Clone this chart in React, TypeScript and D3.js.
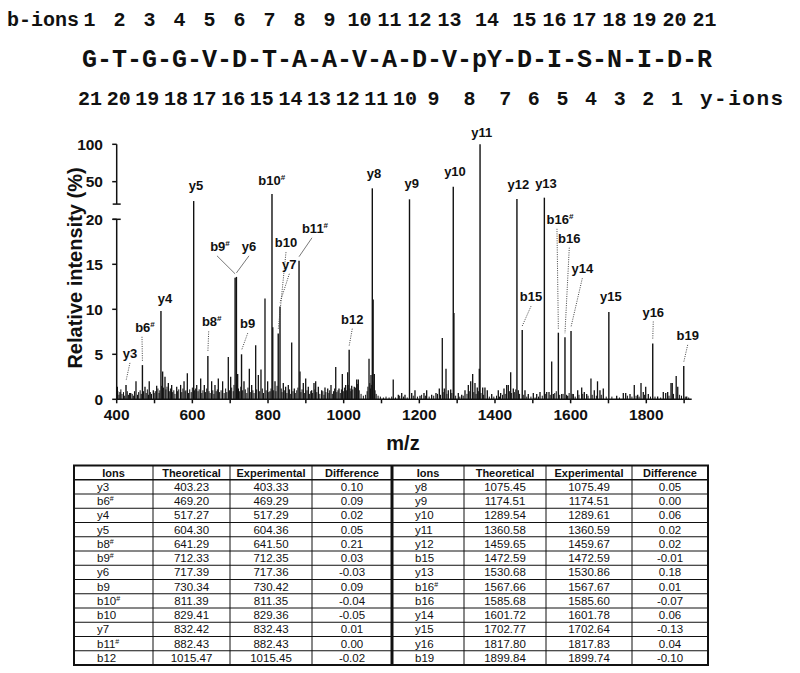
import React from "react";
import * as d3 from "d3";

// ---------- header data ----------
const residues = ["G","T","G","G","V","D","T","A","A","V","A","D","V","pY","D","I","S","N","I","D","R"];
const bIonNumbers = ["1","2","3","4","5","6","7","8","9","10","11","12","13","14","15","16","17","18","19","20","21"];
const yIonNumbers = ["21","20","19","18","17","16","15","14","13","12","11","10","9","8","7","6","5","4","3","2","1"];

// ---------- spectrum data ----------
const xTickValues = [400, 600, 800, 1000, 1200, 1400, 1600, 1800];
const xMinorTicks = [400,500,600,700,800,900,1000,1100,1200,1300,1400,1500,1600,1700,1800,1900];
const yTicksLow = [0, 5, 10, 15, 20];
const yTicksHigh = [50, 100];

// annotated peaks: label, peak m/z, peak intensity, label m/z, label intensity, leader
const annotations: [string, number, number, number, number, string][] = [
  ["y3", 424.6, 1.6, 435, 4.6, "dot"],
  ["b6#", 468, 3.8, 474.8, 7.5, "dot"],
  ["y4", 517, 9.8, 527.7, 10.7, "none"],
  ["y5", 603.5, 24.1, 609.6, 38.6, "none"],
  ["b8#", 641, 4.8, 651.1, 8.1, "dot"],
  ["b9#", 713, 13.5, 673, 16.5, "solid"],
  ["y6", 716.5, 13.6, 749.7, 16.5, "solid"],
  ["b9", 730, 5.0, 746.3, 7.9, "dot"],
  ["b10#", 810.5, 33.5, 809.7, 44.9, "none"],
  ["b10", 827, 7.3, 847.5, 16.9, "dot"],
  ["y7", 831.7, 10.3, 856.3, 14.5, "dot"],
  ["b11#", 882, 15.4, 924.2, 18.5, "solid"],
  ["b12", 1014.5, 5.5, 1022.8, 8.4, "dot"],
  ["y8", 1075.7, 41.1, 1080.2, 55.2, "none"],
  ["y9", 1174, 26.4, 1179.8, 41.8, "none"],
  ["y10", 1289.7, 43.3, 1294.3, 57.3, "none"],
  ["y11", 1360.5, 100, 1364.8, 109.4, "none"],
  ["y12", 1458, 26.8, 1461.6, 40.5, "none"],
  ["b15", 1472, 7.7, 1495.2, 10.9, "dot"],
  ["y13", 1530.5, 28.6, 1534.8, 41.8, "none"],
  ["b16#", 1567.5, 7.4, 1571.8, 19.5, "dot"],
  ["b16", 1585, 6.9, 1596.4, 17.4, "dot"],
  ["y14", 1601, 7.6, 1630.8, 14.0, "dot"],
  ["y15", 1701, 9.7, 1706.6, 10.9, "none"],
  ["y16", 1817, 6.2, 1818.4, 9.2, "dot"],
  ["b19", 1899, 3.7, 1909.4, 6.6, "dot"],
];

// unassigned peaks [m/z, intensity]
const otherPeaks: [number, number][] = [
  [401.7,1.4],[408.7,0.8],[437,0.7],[451,2.0],[474.8,1.4],[486,2.0],[496.8,1.0],[505.7,1.5],[521.5,3.1],[527.7,2.5],
  [536.5,1.8],[545.3,1.6],[558.6,1.4],[569,1.6],[578,2.0],[586.7,2.9],[611.5,1.6],[622,2.3],[631.6,1.6],[651,2.0],
  [659.8,1.6],[668.6,2.3],[680,2.0],[695,4.7],[701.3,2.5],[719.8,2.8],[736.5,2.0],[750.6,3.4],[756.8,1.6],[767.4,6.0],
  [774.4,2.7],[781.4,3.3],[792,11.2],[799,2.0],[805.2,0.9],[812.6,8.0],[818.5,2.0],[840.4,1.8],[846.6,1.4],[853.6,1.6],
  [862.6,6.3],[869.5,1.2],[884.5,3.1],[893.3,1.8],[899.6,2.3],[906.5,1.4],[915.4,1.0],[921.5,1.8],[926,2.0],[933,1.4],
  [941.9,1.0],[950.6,1.3],[957.8,1.2],[966.5,1.6],[979,3.6],[987.6,1.2],[996.4,2.8],[1005.3,1.6],[1010.6,3.0],[1021.2,1.5],
  [1028,1.4],[1034.4,2.2],[1038.7,2.2],[1067,4.5],[1072.2,2.7],[1078,11.1],[1081,2.8],[1131,2.2],[1144.4,0.5],[1153.4,0.7],
  [1162.1,0.5],[1179.8,0.7],[1188.5,1.0],[1201.7,0.4],[1212.3,0.7],[1219.4,1.0],[1232.6,0.5],[1244,0.7],[1252.8,1.2],[1260.7,6.8],
  [1266,1.2],[1270.5,3.4],[1276.6,1.0],[1282.9,1.1],[1291.5,9.6],[1303,0.7],[1312,0.5],[1320.7,1.0],[1329.5,1.6],[1335.8,2.0],
  [1341,2.8],[1347.1,1.8],[1353.2,1.3],[1358.5,3.4],[1367.5,1.3],[1373.5,1.3],[1379.7,1.0],[1391.3,0.6],[1408.7,1.0],[1415,0.7],
  [1423.8,1.2],[1430.9,1.6],[1435.2,1.6],[1441.5,3.0],[1448.4,1.2],[1461.6,1.0],[1479.3,1.0],[1488,0.6],[1501.3,0.7],[1510.3,0.6],
  [1519,0.8],[1536.7,0.8],[1542.8,0.8],[1549.9,4.2],[1554.2,0.6],[1576.3,0.6],[1592.2,0.4],[1607,0.6],[1618.6,1.0],[1629.2,1.3],
  [1636.1,0.8],[1642.4,0.6],[1653.7,2.3],[1662.5,1.0],[1671,2.0],[1677.5,1.0],[1686.3,1.2],[1721.7,0.4],[1739.2,0.7],[1745.5,0.7],
  [1756.9,0.6],[1768.2,1.6],[1777.2,0.5],[1786,1.8],[1792,0.8],[1798.4,1.4],[1805.3,0.6],[1830,0.3],[1844.9,0.8],[1851.3,0.7],
  [1856.5,0.8],[1865.3,1.8],[1868.6,1.8],[1879,2.6],[1883.1,1.4],[1906.8,0.3],
];

// low-level baseline clutter [m/z, intensity]
const clutterPeaks: [number, number][] = [
  [403,0.9],[406,0.5],[411,1.1],[414,0.6],[418,0.8],[421,0.4],[428,0.9],[431,0.5],[434,0.7],[441,0.6],[444,0.4],[447,0.9],
  [455,0.5],[458,0.8],[462,1.0],[465,0.6],[471,0.9],[478,0.7],[481,1.1],[484,0.5],[489,0.8],[492,0.6],[499,0.7],[502,0.9],
  [509,1.2],[512,0.7],[514,1.0],[519,1.5],[524,1.3],[530,1.1],[533,1.4],[539,0.9],[542,1.2],[548,0.8],[551,1.0],[554,0.6],
  [561,0.9],[564,1.1],[572,0.8],[575,1.2],[581,0.9],[583,1.0],[590,0.7],[593,1.1],[597,0.8],[600,1.3],[606,1.0],[608,1.2],
  [615,0.9],[618,1.1],[625,0.7],[628,1.0],[635,0.8],[638,1.2],[644,0.9],[647,0.7],[654,1.0],[657,0.6],[663,0.9],[666,1.1],
  [672,0.8],[676,1.0],[684,0.7],[688,1.2],[691,0.8],[698,1.0],[704,1.3],[708,0.9],[710,1.6],[722,1.2],[725,0.9],[728,1.4],
  [733,1.0],[740,1.1],[744,0.7],[747,1.3],[753,0.8],[760,1.0],[763,0.7],[770,1.1],[778,0.9],[785,1.2],[788,0.7],[795,1.0],
  [802,0.8],[808,1.2],[815,1.0],[821,0.9],[824,1.5],[835,1.2],[837,0.8],[843,1.0],[850,0.7],[857,1.1],[860,0.6],[866,0.9],
  [872,0.7],[876,1.0],[879,1.3],[887,0.8],[890,1.1],[896,0.7],[903,1.0],[910,0.6],[913,0.9],[918,0.7],[924,1.1],[929,0.8],
  [937,0.6],[945,0.9],[948,0.5],[953,0.8],[961,0.7],[963,1.0],[970,0.6],[973,0.9],[976,1.2],[982,0.8],[985,1.0],[991,0.7],
  [994,1.1],[999,0.9],[1002,1.3],[1008,1.0],[1012,1.6],[1017,1.2],[1019,0.9],[1024,1.1],[1031,1.3],[1036,1.7],[1041,1.0],
  [1046,0.6],[1052,0.4],[1058,0.5],[1062,0.9],[1064,1.4],[1069,1.8],[1071,1.2],[1073,1.6],[1077,2.0],[1083,1.0],[1086,0.6],
  [1091,0.4],[1097,0.3],[1105,0.2],[1112,0.3],[1120,0.2],[1127,0.3],[1137,0.2],[1148,0.4],[1158,0.3],[1168,0.2],[1184,0.4],
  [1195,0.3],[1206,0.5],[1216,0.4],[1226,0.3],[1238,0.4],[1248,0.6],[1256,0.5],[1263,0.8],[1273,0.6],[1286,0.7],[1296,0.4],
  [1307,0.3],[1316,0.4],[1326,0.6],[1332,0.9],[1344,0.8],[1350,0.6],[1356,0.9],[1363,0.7],[1370,0.5],[1385,0.3],[1397,0.3],
  [1404,0.4],[1412,0.3],[1420,0.5],[1427,0.6],[1438,0.9],[1444,0.7],[1452,0.8],[1455,1.1],[1465,0.6],[1476,0.5],[1484,0.3],
  [1495,0.3],[1506,0.2],[1515,0.3],[1525,0.4],[1533,0.6],[1546,0.5],[1558,0.7],[1562,0.9],[1571,0.5],[1580,0.6],[1589,0.5],
  [1596,0.7],[1604,0.6],[1612,0.3],[1622,0.5],[1632,0.6],[1646,0.4],[1657,0.5],[1668,0.4],[1681,0.5],[1694,0.3],[1709,0.3],
  [1729,0.2],[1750,0.4],[1762,0.3],[1773,0.4],[1781,0.3],[1795,0.5],[1811,0.3],[1823,0.3],[1838,0.2],[1860,0.4],[1872,0.6],
  [1888,0.5],[1893,0.4],[1903,0.3],[1912,0.2],
];

// ---------- table data ----------
const tableHeaders = ["Ions", "Theoretical", "Experimental", "Difference"];
const leftIons = ["y3","b6#","y4","y5","b8#","b9#","y6","b9","b10#","b10","y7","b11#","b12"];
const leftTheoretical = ["403.23","469.20","517.27","604.30","641.29","712.33","717.39","730.34","811.39","829.41","832.42","882.43","1015.47"];
const leftExperimental = ["403.33","469.29","517.29","604.36","641.50","712.35","717.36","730.42","811.35","829.36","832.43","882.43","1015.45"];
const leftDifference = ["0.10","0.09","0.02","0.05","0.21","0.03","-0.03","0.09","-0.04","-0.05","0.01","0.00","-0.02"];
const rightIons = ["y8","y9","y10","y11","y12","b15","y13","b16#","b16","y14","y15","y16","b19"];
const rightTheoretical = ["1075.45","1174.51","1289.54","1360.58","1459.65","1472.59","1530.68","1567.66","1585.68","1601.72","1702.77","1817.80","1899.84"];
const rightExperimental = ["1075.49","1174.51","1289.61","1360.59","1459.67","1472.59","1530.86","1567.67","1585.60","1601.78","1702.64","1817.83","1899.74"];
const rightDifference = ["0.05","0.00","0.06","0.02","0.02","-0.01","0.18","0.01","-0.07","0.06","-0.13","0.04","-0.10"];

// ---------- layout ----------
const W = 800, H = 673;
const SANS = "'Liberation Sans', Arial, Helvetica, sans-serif";
const MONO = "'Liberation Mono', 'DejaVu Sans Mono', monospace";
const INK = "#111";

const x = d3.scaleLinear().domain([400, 1920]).range([116.7, 691.7]);
const yLow = d3.scaleLinear().domain([0, 20]).range([399.3, 219.3]);
const yHigh = d3.scaleLinear().domain([20, 100]).range([204.1, 144.3]);
const y = (v: number) => (v <= 20 ? yLow(v) : yHigh(v));

function IonLabel({ text, supSize, dy }: { text: string; supSize: number; dy: number }) {
  const hash = text.endsWith("#");
  const base = hash ? text.slice(0, -1) : text;
  return (
    <>
      {base}
      {hash && (
        <tspan fontSize={supSize} dy={-dy}>#</tspan>
      )}
    </>
  );
}

export default function App() {
  // header: sequence laid out character-by-character in monospace cells
  const seqChars: { ch: string; res: number }[] = [];
  residues.forEach((r, i) => {
    if (i > 0) seqChars.push({ ch: "-", res: -1 });
    for (const c of r) seqChars.push({ ch: c, res: i });
  });
  const cell = d3.scaleLinear().domain([0, seqChars.length]).range([82, 712]);
  const residueCenter = residues.map((_, i) => {
    const idx = seqChars.map((c, k) => (c.res === i ? k : -1)).filter((k) => k >= 0);
    return (cell(idx[0]) + cell(idx[idx.length - 1] + 1)) / 2;
  });
  const yRow = d3.scaleLinear().domain([residueCenter[0], residueCenter[20]]).range([90, 677]);

  // table geometry
  const colEdges = [74, 153, 230, 312, 392, 464, 546, 632, 708];
  const tTop = 465.5, rowH = 14.25, nRows = 14;
  const tBottom = tTop + rowH * nRows;
  const rowY = (r: number) => tTop + r * rowH;
  const halves = [
    { cols: colEdges.slice(0, 5), ions: leftIons, th: leftTheoretical, ex: leftExperimental, df: leftDifference },
    { cols: colEdges.slice(4, 9), ions: rightIons, th: rightTheoretical, ex: rightExperimental, df: rightDifference },
  ];

  const peakLine = (mz: number, v: number, key: string, w: number) => (
    <line key={key} x1={x(mz)} x2={x(mz)} y1={y(0)} y2={y(v)} stroke={INK} strokeWidth={w} />
  );

  return (
    <div style={{ position: "fixed", left: 0, top: 0, width: W, height: H, background: "#fff" }}>
      <svg width={W} height={H} viewBox={`0 0 ${W} ${H}`} style={{ display: "block" }}>
        <rect width={W} height={H} fill="#fff" />

        {/* ---------- header ---------- */}
        <g fontFamily={MONO} fontWeight="bold" fill={INK}>
          <text x={7} y={26} fontSize={20}>b-ions</text>
          {bIonNumbers.map((n, i) => (
            <text key={"b" + n} x={residueCenter[i]} y={26} fontSize={20} textAnchor="middle">{n}</text>
          ))}
          {seqChars.map((c, k) => (
            <text key={"s" + k} x={(cell(k) + cell(k + 1)) / 2} y={67} fontSize={25} textAnchor="middle">{c.ch}</text>
          ))}
          {yIonNumbers.map((n, i) => (
            <text key={"y" + n} x={yRow(residueCenter[i])} y={105} fontSize={20} textAnchor="middle">{n}</text>
          ))}
          <text x={700} y={105} fontSize={21} letterSpacing={1.5}>y-ions</text>
        </g>

        {/* ---------- spectrum ---------- */}
        <g>
          {clutterPeaks.map(([mz, v], i) => peakLine(mz, v, "c" + i, 1))}
          {otherPeaks.map(([mz, v], i) => peakLine(mz, v, "o" + i, 1.3))}
          {annotations.map(([lab, mz, v]) => peakLine(mz, v, "a" + lab, 1.4))}
        </g>

        {/* leaders */}
        <g fill="none">
          {annotations
            .filter((a) => a[5] !== "none")
            .map(([lab, mz, v, lmz, lv, kind]) => {
              const sx = x(lmz) - (lab.endsWith("#") ? 3 : 0);
              const sy = y(lv) + 5;
              return (
                <line
                  key={"l" + lab}
                  x1={sx}
                  y1={sy}
                  x2={x(mz)}
                  y2={y(v) - 4}
                  stroke={kind === "dot" ? "#444" : "#555"}
                  strokeWidth={kind === "dot" ? 1 : 0.8}
                  strokeDasharray={kind === "dot" ? "1 1.3" : undefined}
                />
              );
            })}
        </g>

        {/* peak labels */}
        <g fontFamily={SANS} fontWeight="bold" fontSize={13} fill={INK} textAnchor="middle">
          {annotations.map(([lab, , , lmz, lv]) => (
            <text key={"t" + lab} x={x(lmz)} y={y(lv)}>
              <IonLabel text={lab} supSize={8} dy={5} />
            </text>
          ))}
        </g>

        {/* x axis */}
        <g stroke={INK} strokeWidth={1.5}>
          <line x1={x(400)} x2={x(1920)} y1={y(0)} y2={y(0)} />
          {xMinorTicks.map((t) => (
            <line key={"xt" + t} x1={x(t)} x2={x(t)} y1={y(0)} y2={y(0) + 4} />
          ))}
        </g>
        <g fontFamily={SANS} fontWeight="bold" fontSize={15.5} fill={INK} textAnchor="middle">
          {xTickValues.map((t) => (
            <text key={"xl" + t} x={x(t)} y={420}>{t}</text>
          ))}
          <text x={403} y={450} fontSize={20}>m/z</text>
        </g>

        {/* y axis with break */}
        <g stroke={INK} strokeWidth={1.5}>
          <line x1={x(400)} x2={x(400)} y1={yLow(0)} y2={yLow(20)} />
          <line x1={x(400)} x2={x(400)} y1={yHigh(20)} y2={yHigh(100)} />
          {yTicksLow.map((t) => (
            <line key={"yl" + t} x1={x(400) - 4.5} x2={x(400)} y1={yLow(t)} y2={yLow(t)} />
          ))}
          {yTicksHigh.map((t) => (
            <line key={"yh" + t} x1={x(400) - 4.5} x2={x(400)} y1={yHigh(t)} y2={yHigh(t)} />
          ))}
          <line x1={x(400) - 4} x2={x(400) + 4} y1={yHigh(20)} y2={yHigh(20)} />
          <line x1={x(400) - 4} x2={x(400) + 4} y1={yLow(20)} y2={yLow(20)} />
        </g>
        <g fontFamily={SANS} fontWeight="bold" fontSize={15.5} fill={INK} textAnchor="end">
          {yTicksLow.map((t) => (
            <text key={"ylt" + t} x={103} y={yLow(t) + 5.5}>{t}</text>
          ))}
          {yTicksHigh.map((t) => (
            <text key={"yht" + t} x={103} y={yHigh(t) + 5.5}>{t}</text>
          ))}
        </g>
        <text
          transform="translate(82,268) rotate(-90)"
          fontFamily={SANS}
          fontWeight="bold"
          fontSize={20}
          fill={INK}
          textAnchor="middle"
        >
          Relative intensity (%)
        </text>

        {/* ---------- table ---------- */}
        <g fontFamily={SANS} fill={INK}>
          {halves.map((h, hi) => (
            <g key={"h" + hi}>
              {tableHeaders.map((hd, ci) => (
                <text
                  key={"hd" + ci}
                  x={(h.cols[ci] + h.cols[ci + 1]) / 2}
                  y={rowY(0) + 11}
                  fontSize={11}
                  fontWeight="bold"
                  textAnchor="middle"
                >
                  {hd}
                </text>
              ))}
              {h.ions.map((ion, r) => (
                <g key={"r" + r} fontSize={11.5}>
                  <text x={h.cols[0] + 23} y={rowY(r + 1) + 11}>
                    <IonLabel text={ion} supSize={7} dy={4} />
                  </text>
                  <text x={(h.cols[1] + h.cols[2]) / 2} y={rowY(r + 1) + 11} textAnchor="middle">{h.th[r]}</text>
                  <text x={(h.cols[2] + h.cols[3]) / 2} y={rowY(r + 1) + 11} textAnchor="middle">{h.ex[r]}</text>
                  <text x={(h.cols[3] + h.cols[4]) / 2} y={rowY(r + 1) + 11} textAnchor="middle">{h.df[r]}</text>
                </g>
              ))}
            </g>
          ))}
        </g>
        <g stroke={INK} fill="none">
          {d3.range(1, nRows).map((r) => (
            <line
              key={"hr" + r}
              x1={colEdges[0]}
              x2={colEdges[8]}
              y1={rowY(r)}
              y2={rowY(r)}
              strokeWidth={r === 1 ? 1.6 : 1}
            />
          ))}
          {colEdges.slice(1, 8).map((cx, i) => (
            <line key={"vc" + i} x1={cx} x2={cx} y1={tTop} y2={tBottom} strokeWidth={i === 3 ? 3 : 1} />
          ))}
          <rect x={colEdges[0]} y={tTop} width={colEdges[8] - colEdges[0]} height={tBottom - tTop} strokeWidth={2} />
        </g>
      </svg>
    </div>
  );
}
